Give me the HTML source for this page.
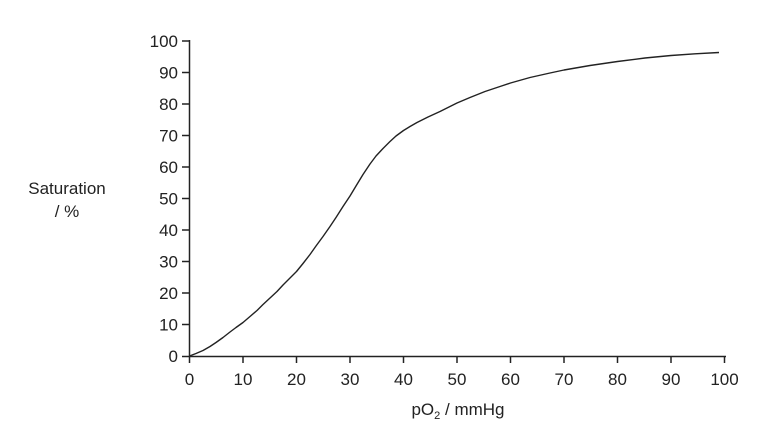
<!DOCTYPE html>
<html><head><style>
html,body{margin:0;padding:0;background:#fff;}
svg{display:block;}
text{font-family:"Liberation Sans",Arial,sans-serif;font-size:17px;fill:#222;}
</style></head><body>
<svg width="781" height="442" viewBox="0 0 781 442">
<g stroke="#222" stroke-width="1.5" fill="none">
<line x1="189.5" y1="40" x2="189.5" y2="357"/>
<line x1="189" y1="356.5" x2="726" y2="356.5"/>
<line x1="182" y1="41" x2="189.5" y2="41"/>
<line x1="182" y1="72.5" x2="189.5" y2="72.5"/>
<line x1="182" y1="104" x2="189.5" y2="104"/>
<line x1="182" y1="135.5" x2="189.5" y2="135.5"/>
<line x1="182" y1="167" x2="189.5" y2="167"/>
<line x1="182" y1="198.5" x2="189.5" y2="198.5"/>
<line x1="182" y1="230" x2="189.5" y2="230"/>
<line x1="182" y1="261.5" x2="189.5" y2="261.5"/>
<line x1="182" y1="293" x2="189.5" y2="293"/>
<line x1="182" y1="324.5" x2="189.5" y2="324.5"/>
<line x1="182" y1="356.5" x2="189.5" y2="356.5"/>
<line x1="189.5" y1="356" x2="189.5" y2="363"/>
<line x1="243" y1="356" x2="243" y2="363"/>
<line x1="296.5" y1="356" x2="296.5" y2="363"/>
<line x1="350" y1="356" x2="350" y2="363"/>
<line x1="403.5" y1="356" x2="403.5" y2="363"/>
<line x1="457" y1="356" x2="457" y2="363"/>
<line x1="510.5" y1="356" x2="510.5" y2="363"/>
<line x1="564" y1="356" x2="564" y2="363"/>
<line x1="617.5" y1="356" x2="617.5" y2="363"/>
<line x1="671" y1="356" x2="671" y2="363"/>
<line x1="724.5" y1="356" x2="724.5" y2="363"/>
<polyline stroke-width="1.4" stroke-linejoin="round" points="189.5,356 196,353.5 203,350.5 210,346.5 216,342.5 223,337.5 230,332 236,327.5 243,322.5 250,316.5 257,310.5 263,304.5 270,298 277,291.5 283,285 290,278 296.5,271.5 303,263.5 310,254.5 316,246 323,236.5 330,226.5 336,217.5 343,206.5 350,196 356,186 363,174.5 370,164 376,156 383,148.5 390,141.5 396,136 403.5,130.5 410,126.5 417,122.5 428,117 440,111.5 457,103 470,97.5 485,91.5 500,86.5 510.5,83 530,77.5 550,73 564,70 590,65.5 617.5,61.5 645,58 671,55.5 695,53.8 719,52.5"/>
</g>
<g text-anchor="end">
<text x="178" y="47">100</text>
<text x="178" y="78.5">90</text>
<text x="178" y="110">80</text>
<text x="178" y="141.5">70</text>
<text x="178" y="173">60</text>
<text x="178" y="204.5">50</text>
<text x="178" y="236">40</text>
<text x="178" y="267.5">30</text>
<text x="178" y="299">20</text>
<text x="178" y="330.5">10</text>
<text x="178" y="362">0</text>
</g>
<g text-anchor="middle">
<text x="189.5" y="385">0</text>
<text x="243" y="385">10</text>
<text x="296.5" y="385">20</text>
<text x="350" y="385">30</text>
<text x="403.5" y="385">40</text>
<text x="457" y="385">50</text>
<text x="510.5" y="385">60</text>
<text x="564" y="385">70</text>
<text x="617.5" y="385">80</text>
<text x="671" y="385">90</text>
<text x="724.5" y="385">100</text>
<text x="67" y="194">Saturation</text>
<text x="67" y="217">/ %</text>
<text x="458" y="415">pO<tspan font-size="11" dy="4">2</tspan><tspan dy="-4"> / mmHg</tspan></text>
</g>
</svg>
</body></html>
